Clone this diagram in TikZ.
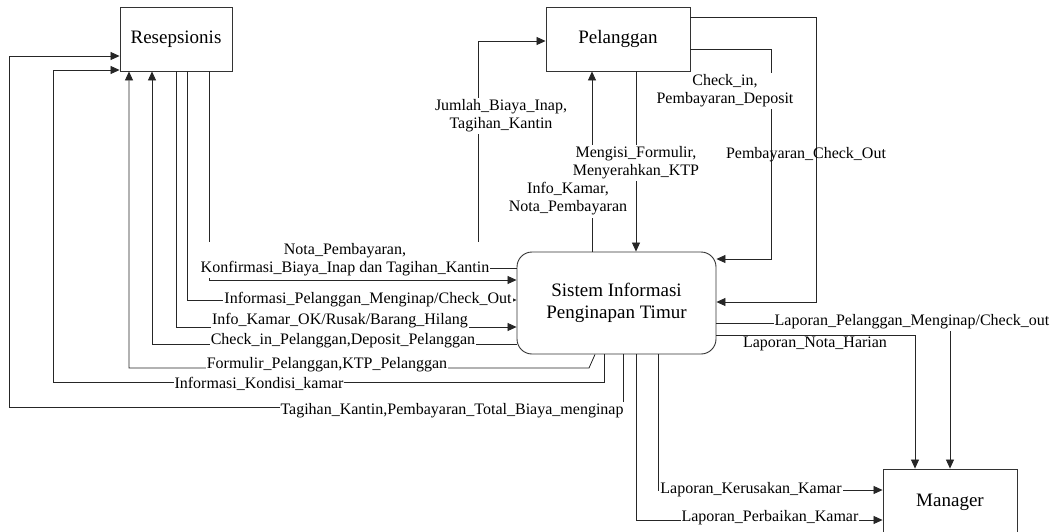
\documentclass[tikz,border=0pt]{standalone}
\usepackage{fontspec}
\setmainfont{Liberation Serif}
\usetikzlibrary{arrows.meta}
\begin{document}
\begin{tikzpicture}[x=1pt,y=-1pt,
  box/.style={draw=black!80, line width=0.9pt, fill=white, font=\fontsize{19}{22}\selectfont, inner sep=0pt},
  flow/.style={draw=black!85, line width=0.8pt},
  arr/.style={flow, -{Triangle[length=9pt,width=8pt]}},
  lbl/.style={font=\fontsize{16}{18}\selectfont, align=center, inner xsep=1pt, inner ysep=1.5pt},
  lblw/.style={lbl, fill=white},
]
\useasboundingbox (0,0) rectangle (1053,531);
\clip (0,0) rectangle (1053,531);
\fill[white] (0,0) rectangle (1053,531);
% entities
\node[box, minimum width=112pt, minimum height=64pt] (res) at (176,39) {Resepsionis};
\node[box, minimum width=144pt, minimum height=64pt] (pel) at (618,39) {Pelanggan};
\node[box, rounded corners=15pt, minimum width=199pt, minimum height=102pt, align=center] (sys) at (616.5,303) {Sistem Informasi\\Penginapan Timur};
\node[box, minimum width=134pt, minimum height=66pt] (man) at (950,502) {Manager};
% connectors
\draw[arr] (623,0 |- sys.south) |- (9,407) |- (res.west |- 0,56);
\draw[arr] (604,0 |- sys.south) |- (53,382) |- (res.west |- 0,70);
\draw[arr] (595,0 |- sys.south) -- (589,368) -| (129,0 |- res.south);
\draw[arr] (sys.west |- 0,344) -| (152,0 |- res.south);
\draw[arr] (176,0 |- res.south) |- (sys.west |- 0,327);
\draw[arr] (187,0 |- res.south) |- (sys.west |- 0,300);
\draw[arr] (209,0 |- res.south) |- (sys.west |- 0,280);
\draw[arr] (sys.west |- 0,268) -| (478,41) -- (pel.west |- 0,41);
\draw[arr] (592,0 |- sys.north) -- (592,0 |- pel.south);
\draw[arr] (636,0 |- pel.south) -- (636,0 |- sys.north);
\draw[arr] (pel.east |- 0,49) -| (771,259) -- (sys.east |- 0,259);
\draw[arr] (pel.east |- 0,17) -| (816,302) -- (sys.east |- 0,302);
\draw[arr] (sys.east |- 0,323) -| (950,0 |- man.north);
\draw[arr] (sys.east |- 0,335) -| (915,0 |- man.north);
\draw[arr] (658,0 |- sys.south) |- (man.west |- 0,490);
\draw[arr] (636,0 |- sys.south) |- (man.west |- 0,520);
% labels
\node[lblw] (t1) at (452,411) {Tagihan\_Kantin,Pembayaran\_Total\_Biaya\_menginap};
\node[lblw] (t2) at (259,384) {Informasi\_Kondisi\_kamar};
\node[lblw] (t3) at (327,365) {Formulir\_Pelanggan,KTP\_Pelanggan};
\node[lblw] (t4) at (343,341) {Check\_in\_Pelanggan,Deposit\_Pelanggan};
\node[lblw] (t5) at (340,321) {Info\_Kamar\_OK/Rusak/Barang\_Hilang};
\node[lblw] (t6) at (368,300) {Informasi\_Pelanggan\_Menginap/Check\_Out};
\node[lblw] (t7) at (345,260) {Nota\_Pembayaran,\\Konfirmasi\_Biaya\_Inap dan Tagihan\_Kantin};
\node[lblw] (t8) at (501,116) {Jumlah\_Biaya\_Inap,\\Tagihan\_Kantin};
\node[lblw] (t9) at (636,163) {Mengisi\_Formulir,\\Menyerahkan\_KTP};
\node[lblw, inner ysep=3pt] (t10) at (568,199) {Info\_Kamar,\\Nota\_Pembayaran};
\node[lblw] (t11) at (725,91) {Check\_in,\\Pembayaran\_Deposit};
\node[lbl] (t12) at (806,155) {Pembayaran\_Check\_Out};
\node[lblw] (t13) at (912,322) {Laporan\_Pelanggan\_Menginap/Check\_out};
\node[lbl] (t14) at (815,344) {Laporan\_Nota\_Harian};
\node[lblw] (t15) at (751,490) {Laporan\_Kerusakan\_Kamar};
\node[lblw] (t16) at (770,518) {Laporan\_Perbaikan\_Kamar};
\end{tikzpicture}
\end{document}
